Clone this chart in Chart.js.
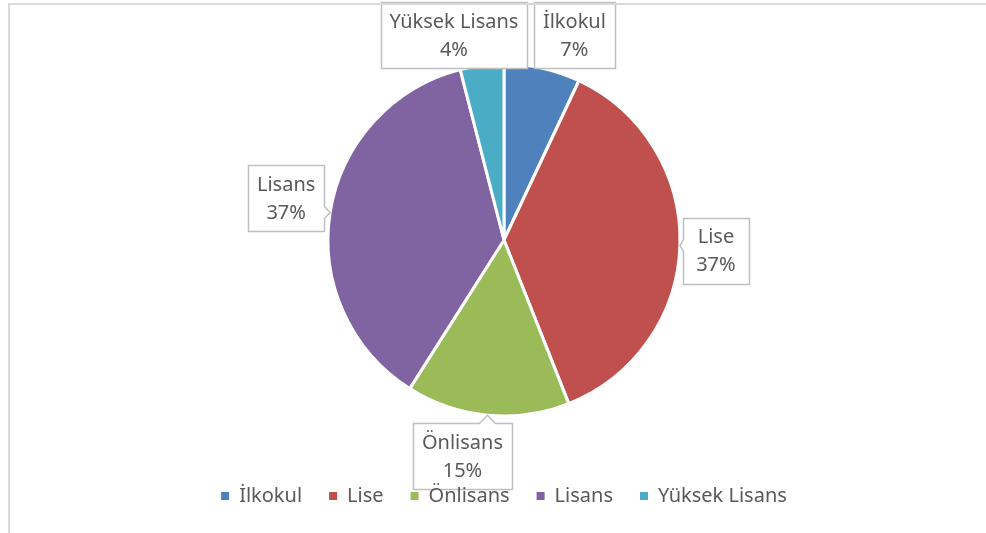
<!DOCTYPE html>
<html>
<head>
<meta charset="utf-8">
<script src="https://cdn.jsdelivr.net/npm/chart.js@4.4.1/dist/chart.umd.min.js"></script>
<style>
  html, body { margin: 0; padding: 0; background: #fff; }
  #wrap { position: relative; width: 986px; height: 533px; overflow: hidden; }
  #myChart { position: absolute; left: 0; top: 0; }
  #frame {
    position: absolute; left: 8px; top: 3px; right: -10px; bottom: -10px;
    border-top: 2px solid #d9d9d9; border-left: 2px solid #d9d9d9;
    pointer-events: none;
  }
</style>
</head>
<body>
<div id="wrap">
  <canvas id="myChart" width="986" height="533"></canvas>
  <div id="frame"></div>
</div>
<script>
const labels = ["İlkokul", "Lise", "Önlisans", "Lisans", "Yüksek Lisans"];
const values = [7, 37, 15, 37, 4];
const colors = ["#4f81bd", "#c0504d", "#9bbb59", "#8064a2", "#4bacc6"];

// where each callout box sits relative to the edge of its slice (px)
const calloutOffset = [[32, -33], [36, 5], [-25, 41], [-44, -14], [-28, -30]];

const FONT = '"Noto Sans", sans-serif';
const total = values.reduce((a, b) => a + b, 0);
const pct = (v) => Math.round((v / total) * 100) + "%";

function calloutPath(ctx, x0, y0, x1, y1, tx, ty) {
  const clamp = (v, a, b) => Math.max(a, Math.min(b, v));
  let side = null;
  if (tx > x1 + 3) side = "right";
  else if (tx < x0 - 3) side = "left";
  else if (ty > y1 + 3) side = "bottom";
  else if (ty < y0 - 3) side = "top";

  ctx.beginPath();
  ctx.moveTo(x0, y0);
  if (side === "top") {
    const bx = clamp(tx, x0 + 10, x1 - 10);
    ctx.lineTo(bx - 8, y0);
    ctx.lineTo(tx, ty);
    ctx.lineTo(bx + 8, y0);
  }
  ctx.lineTo(x1, y0);
  if (side === "right") {
    const by = clamp(ty, y0 + 10, y1 - 10);
    ctx.lineTo(x1, by - 6);
    ctx.lineTo(tx, ty);
    ctx.lineTo(x1, by + 6);
  }
  ctx.lineTo(x1, y1);
  if (side === "bottom") {
    const bx = clamp(tx, x0 + 10, x1 - 10);
    ctx.lineTo(bx + 8, y1);
    ctx.lineTo(tx, ty);
    ctx.lineTo(bx - 8, y1);
  }
  ctx.lineTo(x0, y1);
  if (side === "left") {
    const by = clamp(ty, y0 + 10, y1 - 10);
    ctx.lineTo(x0, by + 6);
    ctx.lineTo(tx, ty);
    ctx.lineTo(x0, by - 6);
  }
  ctx.closePath();
}

const calloutPlugin = {
  id: "callouts",
  // hold the legend back so it can be painted after the callout boxes
  beforeDraw(chart) {
    const lg = chart.legend;
    if (lg && !lg._origDraw) {
      lg._origDraw = lg.draw.bind(lg);
      lg.draw = function () {};
    }
  },
  afterDatasetsDraw(chart) {
    const ctx = chart.ctx;
    const meta = chart.getDatasetMeta(0);
    ctx.save();
    ctx.font = "20px " + FONT;
    ctx.textAlign = "center";
    ctx.textBaseline = "middle";
    meta.data.forEach((arc, i) => {
      const mid = (arc.startAngle + arc.endAngle) / 2;
      const r = arc.outerRadius;
      const tx = arc.x + Math.cos(mid) * r;
      const ty = arc.y + Math.sin(mid) * r;
      const cx = tx + calloutOffset[i][0];
      const cy = ty + calloutOffset[i][1];
      const l1 = labels[i];
      const l2 = pct(values[i]);
      const w = Math.max(66, Math.max(ctx.measureText(l1).width, ctx.measureText(l2).width) + 18);
      const h = 66;
      const x0 = Math.round(cx - w / 2) + 0.5, x1 = Math.round(cx + w / 2) + 0.5;
      const y0 = Math.round(cy - h / 2) + 0.5, y1 = Math.round(cy + h / 2) + 0.5;
      calloutPath(ctx, x0, y0, x1, y1, tx, ty);
      ctx.fillStyle = "#ffffff";
      ctx.fill();
      ctx.strokeStyle = "#bfbfbf";
      ctx.lineWidth = 1.5;
      ctx.stroke();
      ctx.fillStyle = "#595959";
      ctx.fillText(l1, cx, cy - 13);
      ctx.fillText(l2, cx, cy + 15);
    });
    ctx.restore();
  },
  afterDraw(chart) {
    if (chart.legend && chart.legend._origDraw) chart.legend._origDraw();
  }
};

const ctx = document.getElementById("myChart");

new Chart(ctx, {
  type: "pie",
  data: {
    labels: labels,
    datasets: [
      {
        data: values,
        backgroundColor: colors,
        borderColor: "#ffffff",
        borderWidth: 3,
        radius: 176,
      },
    ],
  },
  options: {
    responsive: false,
    animation: false,
    layout: {
      padding: { top: 21, bottom: 17, left: 22, right: 0 },
    },
    plugins: {
      tooltip: { enabled: false },
      legend: {
        position: "bottom",
        labels: {
          usePointStyle: true,
          pointStyle: "rect",
          boxWidth: 8,
          boxHeight: 8,
          padding: 27,
          color: "#595959",
          font: { family: FONT, size: 20 },
          generateLabels: (chart) =>
            Chart.overrides.doughnut.plugins.legend.labels
              .generateLabels(chart)
              .map((item) => ({ ...item, lineWidth: 0 })),
        },
      },
    },
  },
  plugins: [calloutPlugin],
});
</script>
</body>
</html>
